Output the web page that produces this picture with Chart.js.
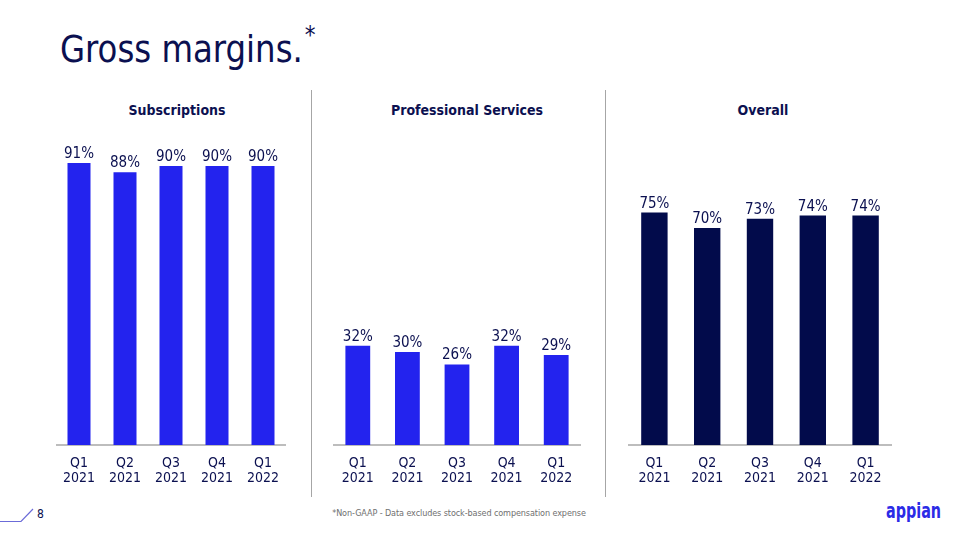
<!DOCTYPE html>
<html>
<head>
<meta charset="utf-8">
<script src="https://cdn.jsdelivr.net/npm/chart.js@4.4.1/dist/chart.umd.min.js"></script>
<style>
  html, body { margin:0; padding:0; background:#ffffff; }
  body { width:960px; height:540px; position:relative; overflow:hidden; font-family:"DejaVu Sans Condensed","DejaVu Sans",sans-serif; color:#0b1050; }
  .abs { position:absolute; }
  #title { left:60px; top:25px; font-size:36px; line-height:46px; white-space:nowrap; color:#0b1050; transform-origin:left top; transform:scaleY(1.06); }
  #title sup { font-size:24px; position:relative; top:-18px; vertical-align:baseline; margin-left:2px; }
  .ctitle { top:101px; font-weight:bold; font-size:14px; line-height:18px; white-space:nowrap; transform:translateX(-50%); color:#0b1050; }
  .sep { width:1px; background:#a6a6a6; top:90px; height:407px; }
  .cw { position:absolute; top:135px; height:360px; }
  #pnum { left:37px; top:506px; font-size:12px; line-height:16px; color:#0b1050; }
  #foot { left:459px; top:506px; font-size:9px; line-height:14px; color:#707070; transform:translateX(-50%); white-space:nowrap; letter-spacing:-0.1px; }
  #logo { left:886px; top:498px; font-size:21px; line-height:26px; font-weight:bold; color:#2b2be6; transform-origin:left top; transform:scaleX(0.76); }
</style>
</head>
<body>
<div id="title" class="abs">Gross margins.<sup>*</sup></div>
<div class="abs ctitle" style="left:177px">Subscriptions</div>
<div class="abs ctitle" style="left:467px">Professional Services</div>
<div class="abs ctitle" style="left:763px">Overall</div>
<div class="abs sep" style="left:311px"></div>
<div class="abs sep" style="left:605px"></div>
<div class="cw" style="left:56px;width:230px"><canvas id="c1"></canvas></div>
<div class="cw" style="left:333px;width:248px"><canvas id="c2"></canvas></div>
<div class="cw" style="left:628px;width:264px"><canvas id="c3"></canvas></div>
<svg class="abs" style="left:0;top:505px" width="40" height="20"><polyline points="0,16.5 21,16.5 33,4" fill="none" stroke="#6b6bd8" stroke-width="1.2"/></svg>
<div id="pnum" class="abs">8</div>
<div id="foot" class="abs">*Non-GAAP - Data excludes stock-based compensation expense</div>
<div id="logo" class="abs">appian</div>
<script>
const categories = [["Q1","2021"],["Q2","2021"],["Q3","2021"],["Q4","2021"],["Q1","2022"]];
const subscriptions = [91, 88, 90, 90, 90];
const professionalServices = [32, 30, 26, 32, 29];
const overall = [75, 70, 73, 74, 74];

const NAVY = "#0b1050";
const FONT = '"DejaVu Sans Condensed","DejaVu Sans",sans-serif';

const valueLabels = {
  id: "valueLabels",
  afterDatasetsDraw(chart) {
    const ctx = chart.ctx;
    const meta = chart.getDatasetMeta(0);
    const data = chart.data.datasets[0].data;
    ctx.save();
    ctx.font = "15px " + FONT;
    ctx.fillStyle = NAVY;
    ctx.textAlign = "center";
    ctx.textBaseline = "alphabetic";
    meta.data.forEach((bar, i) => {
      ctx.fillText(Math.round(data[i]) + "%", bar.x, bar.y - 5);
    });
    ctx.restore();
  }
};

function makeChart(id, values, color) {
  new Chart(document.getElementById(id), {
    type: "bar",
    data: {
      labels: categories,
      datasets: [{ data: values, backgroundColor: color, borderWidth: 0, categoryPercentage: 1.0, barPercentage: 0.5 }]
    },
    options: {
      responsive: true,
      maintainAspectRatio: false,
      animation: false,
      layout: { padding: 0 },
      plugins: { legend: { display: false }, tooltip: { enabled: false } },
      scales: {
        y: { display: false, min: 0, max: 100 },
        x: {
          grid: { display: false, drawTicks: false },
          border: { display: true, color: "#bdbdbd", width: 2 },
          ticks: { color: NAVY, font: { family: FONT, size: 14, lineHeight: 1.05 }, padding: 11, maxRotation: 0, autoSkip: false },
          afterFit(scale) { scale.height = 50; scale.paddingLeft = 0; scale.paddingRight = 0; }
        }
      }
    },
    plugins: [valueLabels]
  });
}
makeChart("c1", subscriptions, "#2323ee");
makeChart("c2", professionalServices, "#2323ee");
makeChart("c3", overall, "#020b4b");
</script>
</body>
</html>
